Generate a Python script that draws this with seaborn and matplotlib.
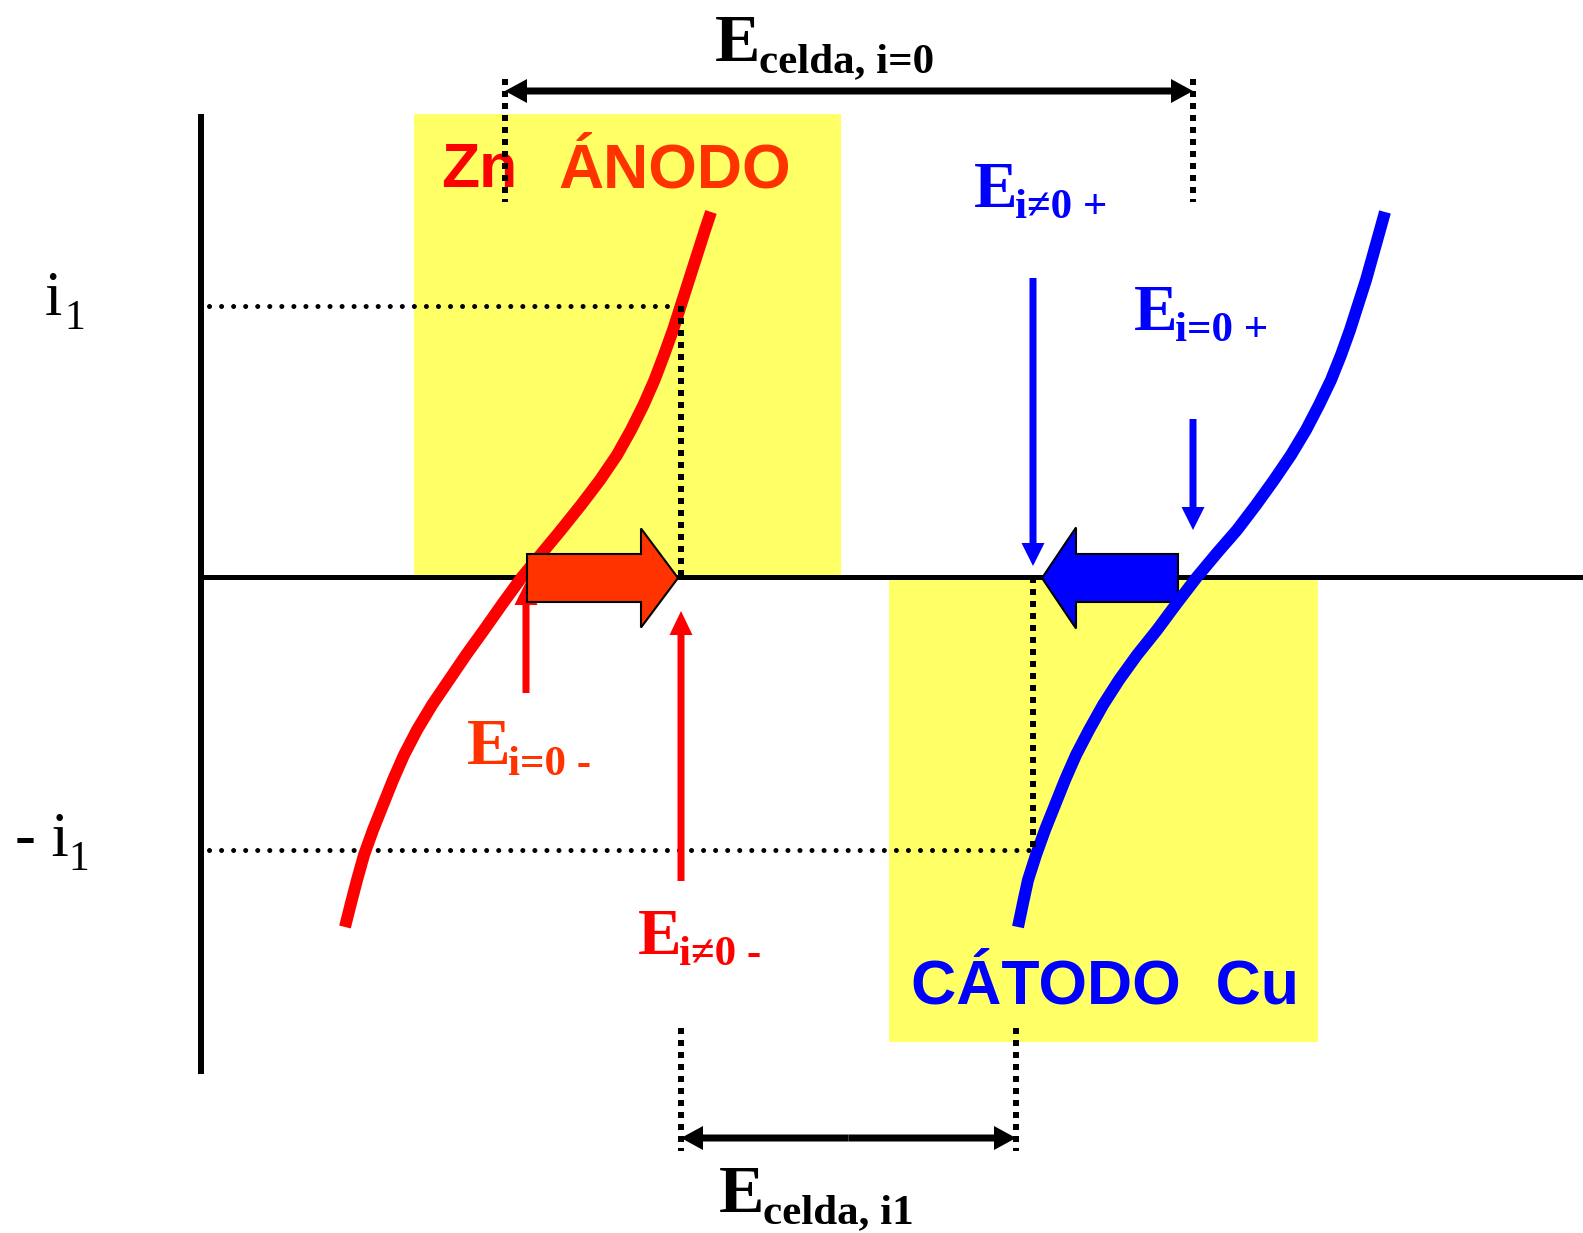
import matplotlib
matplotlib.use('Agg')
import matplotlib.pyplot as plt
import seaborn as sns
from matplotlib.patches import Rectangle, FancyArrow

# polarisation curves (pixel grid, y grows downward)
anode_y = [927, 903, 880, 855, 830, 805, 780, 755, 730, 705, 680, 655, 630, 603, 577,
           553, 530, 505, 480, 455, 430, 405, 380, 355, 330, 305, 280, 255, 230, 212]
anode_x = [345, 351, 357, 364, 373, 383, 393, 404, 417, 432, 449, 466, 484, 503, 522,
           542, 561, 581, 600, 617, 631, 643.5, 654.5, 664, 673, 681, 689, 697, 705, 711]
cathode_y = [927, 903, 880, 855, 830, 805, 780, 755, 730, 705, 680, 655, 630, 603, 577,
             553, 530, 505, 480, 455, 430, 405, 380, 355, 330, 305, 280, 255, 230, 212]
cathode_x = [1018, 1023, 1028, 1036, 1045, 1055, 1065, 1076, 1089, 1103, 1119, 1137, 1157, 1177, 1197,
             1217, 1237, 1256, 1274, 1291, 1306, 1319, 1331, 1341, 1350, 1358, 1366, 1373, 1380, 1385]

# reference levels
axis_x = 201
zero_y = 577
i1_y = 306
neg_i1_y = 850
E_eq_an = 526      # E i=0 -
E_op_an = 681      # E i!=0 -
E_op_cat = 1033    # E i!=0 +
E_eq_cat = 1193    # E i=0 +
E_cell0 = [505, 1193]
E_cell1 = [681, 1016]

RED = '#FF0000'
ORANGE = '#FF3300'
BLUE = '#0000FF'
YELLOW = '#FFFF66'
PX = 72 / 100  # points per pixel

sns.set_style('white')
SERIF = ['Liberation Serif', 'DejaVu Serif']
SANS = ['Liberation Sans', 'DejaVu Sans']

fig = plt.figure(figsize=(15.83, 12.33), dpi=100)
ax = fig.add_axes([0, 0, 1, 1])

# yellow boxes
ax.add_patch(Rectangle((414, 114), 427, zero_y - 114, color=YELLOW, lw=0, zorder=0))
ax.add_patch(Rectangle((889, 580), 429, 462, color=YELLOW, lw=0, zorder=0))

# axes of the diagram
ax.plot([axis_x, axis_x], [114, 1074], color='black', lw=6 * PX, solid_capstyle='butt', zorder=2)
ax.plot([axis_x, 1583], [zero_y, zero_y], color='black', lw=5 * PX, solid_capstyle='butt', zorder=2)

# round dotted current levels
round_dots = dict(color='black', lw=5 * PX, linestyle=(0, (0.01, 2.4)), dash_capstyle='round', zorder=3)
ax.plot([axis_x + 8, E_op_an], [i1_y, i1_y], **round_dots)
ax.plot([axis_x + 8, E_op_cat], [neg_i1_y, neg_i1_y], **round_dots)

# square dotted guides
sq_dots = dict(color='black', lw=6 * PX, linestyle=(0, (1, 1.0)), dash_capstyle='butt', zorder=7)
ax.plot([E_op_an, E_op_an], [i1_y, zero_y], **sq_dots)
ax.plot([E_op_cat, E_op_cat], [zero_y, neg_i1_y], **sq_dots)
for x in E_cell0:
    ax.plot([x, x], [79, 202], **sq_dots)
for x in E_cell1:
    ax.plot([x, x], [1028, 1151], **sq_dots)

# curves
sns.lineplot(x=anode_x, y=anode_y, sort=False, estimator=None, color=RED, lw=12 * PX,
             solid_capstyle='butt', solid_joinstyle='round', ax=ax, zorder=3, legend=False)
sns.lineplot(x=cathode_x, y=cathode_y, sort=False, estimator=None, color=BLUE, lw=12 * PX,
             solid_capstyle='butt', solid_joinstyle='round', ax=ax, zorder=6, legend=False)
ax.set_xlim(0, 1583)
ax.set_ylim(1233, 0)
ax.axis('off')

# thin arrows
ax.add_patch(FancyArrow(E_eq_an, 693, 0, 582 - 693, width=7, head_width=23, head_length=23,
                        length_includes_head=True, color=RED, lw=0, zorder=3))
ax.add_patch(FancyArrow(E_op_an, 881, 0, 611 - 881, width=7, head_width=23, head_length=24,
                        length_includes_head=True, color=RED, lw=0, zorder=3))
ax.add_patch(FancyArrow(E_op_cat, 278, 0, 566 - 278, width=7, head_width=23, head_length=23,
                        length_includes_head=True, color=BLUE, lw=0, zorder=3))
ax.add_patch(FancyArrow(E_eq_cat, 419, 0, 530 - 419, width=7, head_width=23, head_length=23,
                        length_includes_head=True, color=BLUE, lw=0, zorder=3))

# block arrows
ax.add_patch(FancyArrow(527, zero_y + 1, 678 - 527, 0, width=48, head_width=99, head_length=37,
                        length_includes_head=True, facecolor=ORANGE, edgecolor='black', lw=1.5, zorder=5))
ax.add_patch(FancyArrow(1178, zero_y + 1, 1042 - 1178, 0, width=48, head_width=101, head_length=34,
                        length_includes_head=True, facecolor=BLUE, edgecolor='black', lw=1.5, zorder=5))

# cell potential double arrows
def double_arrow(xa, xb, y):
    mid = (xa + xb) / 2
    for end in (xa, xb):
        ax.add_patch(FancyArrow(mid, y, end - mid, 0, width=7, head_width=24, head_length=22,
                                length_includes_head=True, color='black', lw=0, zorder=8))

double_arrow(E_cell0[0], E_cell0[1], 91)
double_arrow(E_cell1[0], E_cell1[1], 1138)


def e_label(x, y, sub, color, big=47, small=31, gap=41, drop=11):
    ax.text(x, y, 'E', color=color, fontsize=big, fontweight='bold', family=SERIF,
            va='baseline', ha='left', zorder=6)
    ax.text(x + gap, y + drop, sub, color=color, fontsize=small, fontweight='bold', family=SERIF,
            va='baseline', ha='left', zorder=6)


e_label(715, 61, 'celda, i=0', 'black', big=49, gap=44)
e_label(719, 1212, 'celda, i1', 'black', big=49, gap=44)
e_label(467, 764, 'i=0 -', ORANGE)
e_label(638, 954, 'i\u22600 -', RED)
e_label(974, 207, 'i\u22600 +', BLUE)
e_label(1134, 330, 'i=0 +', BLUE)

# current labels
ax.text(45, 315, 'i', color='black', fontsize=45, family=SERIF, va='baseline', ha='left')
ax.text(64, 329, '1', color='black', fontsize=30, family=SERIF, va='baseline', ha='left')
ax.text(15, 856, '- i', color='black', fontsize=45, family=SERIF, va='baseline', ha='left')
ax.text(68, 870, '1', color='black', fontsize=30, family=SERIF, va='baseline', ha='left')

# electrode names
ax.text(441, 187, 'Zn', color=RED, fontsize=45, fontweight='bold', family=SANS, va='baseline', zorder=6)
ax.text(558, 187, '\u00c1NODO', color=ORANGE, fontsize=45, fontweight='bold', family=SANS, va='baseline', zorder=6)
ax.text(911, 1003, 'C\u00c1TODO  Cu', color=BLUE, fontsize=45, fontweight='bold', family=SANS, va='baseline', zorder=6)

fig.savefig('out.png', dpi=100, facecolor='white')
